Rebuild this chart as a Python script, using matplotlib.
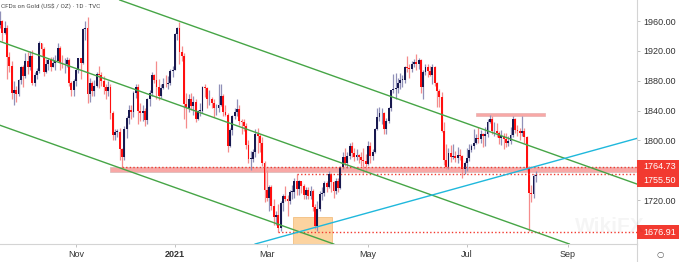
import numpy as np
import pandas as pd
import matplotlib
matplotlib.use('Agg')
import matplotlib.pyplot as plt
import matplotlib.transforms as mtrans
from matplotlib.patches import Rectangle
from matplotlib.lines import Line2D
from matplotlib import font_manager

plt.rcParams['font.family'] = ['Liberation Sans', 'DejaVu Sans']

# TVC gold, daily bars 16 Sep 2020 -> 12 Aug 2021
opens = [
    1955, 1960, 1944, 1950, 1912, 1900, 1863, 1868, 1862, 1881, 1898,  # sep
    1886, 1906, 1899, 1913, 1877, 1887, 1893, 1930, 1922, 1891, 1902, 1908, 1899, 1904, 1907, 1924, 1904, 1902, 1902, 1908, 1877, 1868,  # oct
    1879, 1895, 1910, 1904, 1949, 1951, 1862, 1877, 1866, 1873, 1889, 1887, 1880, 1872, 1866, 1871, 1837, 1807, 1811, 1811, 1788,  # nov
    1777, 1815, 1830, 1841, 1838, 1863, 1871, 1839, 1837, 1840, 1827, 1855, 1864, 1887, 1881, 1872, 1859, 1870, 1876, 1875, 1877, 1893,  # dec
    1895, 1943, 1950, 1918, 1913, 1849, 1844, 1855, 1846, 1851, 1828, 1840, 1840, 1871, 1870, 1855, 1855, 1850, 1843, 1843,  # jan
    1848, 1860, 1838, 1834, 1793, 1814, 1833, 1838, 1842, 1826, 1824, 1819, 1794, 1775, 1775, 1784, 1809, 1806, 1797, 1770,  # feb
    1734, 1723, 1738, 1712, 1697, 1700, 1683, 1716, 1726, 1722, 1719, 1731, 1731, 1745, 1735, 1745, 1739, 1727, 1734, 1725, 1732, 1711, 1685,  # mar
    1708, 1728, 1729, 1743, 1737, 1755, 1744, 1732, 1746, 1736, 1764, 1777, 1770, 1779, 1793, 1783, 1777, 1780, 1777, 1773, 1772,  # apr
    1768, 1792, 1779, 1784, 1815, 1831, 1836, 1836, 1815, 1826, 1843, 1867, 1869, 1870, 1877, 1881, 1881, 1898, 1897, 1896, 1903,  # may
    1905, 1903, 1908, 1871, 1891, 1899, 1893, 1888, 1898, 1877, 1866, 1858, 1812, 1773, 1764, 1783, 1778, 1779, 1776, 1781, 1779, 1761,  # jun
    1770, 1776, 1787, 1792, 1797, 1803, 1802, 1808, 1806, 1808, 1825, 1829, 1812, 1812, 1810, 1803, 1806, 1802, 1797, 1799, 1807, 1828,  # jul
    1814, 1813, 1810, 1812, 1804, 1763, 1729, 1728, 1752,  # aug
]
highs = [
    1973, 1962, 1960, 1955, 1918, 1907, 1880, 1873, 1882, 1900, 1901,
    1917, 1918, 1920, 1921, 1891, 1897, 1933, 1931, 1925, 1909, 1910, 1912, 1912, 1914, 1931, 1926, 1915, 1911, 1912, 1910, 1880, 1882,
    1897, 1911, 1911, 1951, 1960, 1965, 1883, 1880, 1881, 1892, 1900, 1892, 1886, 1876, 1880, 1875, 1839, 1815, 1815, 1816, 1790,
    1819, 1832, 1848, 1848, 1866, 1875, 1875, 1850, 1848, 1843, 1857, 1868, 1891, 1889, 1907, 1882, 1876, 1884, 1888, 1886, 1896, 1900,
    1944, 1952, 1959, 1926, 1917, 1864, 1862, 1863, 1859, 1856, 1841, 1850, 1873, 1875, 1871, 1867, 1858, 1856, 1849, 1875,
    1875, 1862, 1847, 1837, 1816, 1834, 1844, 1855, 1848, 1829, 1828, 1823, 1800, 1786, 1789, 1815, 1816, 1808, 1805, 1772,
    1760, 1740, 1740, 1721, 1705, 1714, 1719, 1728, 1739, 1727, 1733, 1740, 1749, 1755.5, 1747, 1746, 1741, 1738, 1737, 1739, 1735, 1714, 1718,
    1732, 1738, 1745, 1745, 1759, 1756, 1745, 1749, 1749, 1765, 1784, 1790, 1785, 1797, 1798, 1790, 1789, 1782, 1785, 1790, 1782,
    1799, 1798, 1789, 1817, 1843, 1845, 1844, 1838, 1830, 1845, 1868, 1889, 1890, 1883, 1890, 1888, 1900, 1913, 1903, 1906, 1909,
    1916, 1910, 1909, 1895, 1903, 1903, 1900, 1903, 1900, 1878, 1869, 1865, 1825, 1795, 1790, 1794, 1795, 1786, 1791, 1788, 1781, 1772,
    1790, 1795, 1795, 1815, 1809, 1818, 1814, 1810, 1818, 1829, 1834, 1832, 1825, 1823, 1813, 1814, 1810, 1810, 1806, 1818, 1832, 1830,
    1820, 1816, 1832, 1817, 1806, 1766, 1740, 1755, 1759,
]
lows = [
    1950, 1933, 1942, 1882, 1891, 1855, 1848, 1851, 1859, 1876, 1872,
    1884, 1889, 1895, 1874, 1873, 1882, 1890, 1913, 1886, 1890, 1894, 1893, 1898, 1895, 1906, 1894, 1897, 1890, 1899, 1873, 1860, 1860,
    1873, 1890, 1882, 1902, 1935, 1850, 1852, 1859, 1860, 1871, 1870, 1873, 1862, 1855, 1860, 1829, 1800, 1800, 1804, 1774, 1764.7,
    1774, 1803, 1822, 1828, 1831, 1857, 1822, 1826, 1826, 1819, 1822, 1846, 1859, 1877, 1856, 1854, 1857, 1869, 1871, 1869, 1874, 1885,
    1895, 1935, 1902, 1906, 1828, 1817, 1838, 1841, 1834, 1824, 1827, 1833, 1836, 1858, 1843, 1847, 1843, 1831, 1834, 1838,
    1846, 1832, 1832, 1785, 1791, 1807, 1829, 1833, 1821, 1808, 1812, 1788, 1769, 1760, 1771, 1777, 1783, 1784, 1766, 1717,
    1718, 1705, 1707, 1687, 1687, 1676.91, 1678, 1705, 1718, 1699, 1714, 1722, 1723, 1727, 1727, 1729, 1721, 1721, 1722, 1722, 1705, 1681, 1677.9,
    1705, 1720, 1726, 1731, 1736, 1731, 1723, 1728, 1731, 1735, 1762, 1765, 1763, 1775, 1777, 1772, 1774, 1769, 1766, 1756, 1759,
    1767, 1770, 1774, 1783, 1814, 1826, 1822, 1809, 1808, 1823, 1840, 1863, 1855, 1863, 1869, 1872, 1877, 1892, 1884, 1892, 1898,
    1895, 1896, 1864, 1855, 1888, 1885, 1886, 1876, 1873, 1845, 1845, 1811, 1767, 1761, 1761, 1771, 1775, 1771, 1770, 1773, 1750, 1755,
    1759, 1772, 1785, 1788, 1795, 1796, 1796, 1791, 1792, 1805, 1823, 1809, 1806, 1804, 1795, 1794, 1789, 1791, 1792, 1795, 1805, 1810,
    1806, 1800, 1806, 1797, 1759, 1677.9, 1717, 1723, 1744,
]
closes = [
    1960, 1944, 1950, 1912, 1900, 1863, 1868, 1862, 1881, 1898, 1886,
    1906, 1899, 1913, 1877, 1887, 1893, 1930, 1922, 1891, 1902, 1908, 1899, 1904, 1907, 1924, 1904, 1902, 1902, 1908, 1877, 1868, 1879,
    1895, 1910, 1904, 1949, 1951, 1862, 1877, 1866, 1873, 1889, 1887, 1880, 1872, 1866, 1871, 1837, 1807, 1811, 1811, 1788, 1777,
    1815, 1830, 1841, 1838, 1863, 1871, 1839, 1837, 1840, 1827, 1855, 1864, 1887, 1881, 1872, 1859, 1870, 1876, 1875, 1877, 1893, 1895,
    1943, 1950, 1918, 1913, 1849, 1844, 1855, 1846, 1851, 1828, 1840, 1840, 1871, 1870, 1855, 1855, 1850, 1843, 1843, 1848,
    1860, 1838, 1834, 1793, 1814, 1833, 1838, 1842, 1826, 1824, 1819, 1794, 1775, 1775, 1784, 1809, 1806, 1797, 1770, 1734,
    1723, 1738, 1712, 1697, 1700, 1683, 1716, 1726, 1722, 1719, 1731, 1731, 1745, 1735, 1745, 1739, 1727, 1734, 1725, 1732, 1711, 1685, 1708,
    1728, 1729, 1743, 1737, 1755, 1744, 1732, 1746, 1736, 1764, 1777, 1770, 1779, 1793, 1783, 1777, 1780, 1777, 1773, 1772, 1768,
    1792, 1779, 1784, 1815, 1831, 1836, 1836, 1815, 1826, 1843, 1867, 1869, 1870, 1877, 1881, 1881, 1898, 1897, 1896, 1903, 1905,
    1903, 1908, 1871, 1891, 1899, 1893, 1888, 1898, 1877, 1866, 1858, 1812, 1773, 1764, 1783, 1778, 1779, 1776, 1781, 1779, 1761, 1770,
    1776, 1787, 1792, 1797, 1803, 1802, 1808, 1806, 1808, 1825, 1829, 1812, 1812, 1810, 1803, 1806, 1802, 1797, 1799, 1807, 1828, 1814,
    1813, 1810, 1812, 1804, 1763, 1729, 1728, 1752, 1753,
]

holidays = ['2020-12-25', '2021-01-01', '2021-04-02']
days = pd.bdate_range('2020-09-16', '2021-08-12')
days = days[~days.isin(pd.to_datetime(holidays))]
all_days = days.append(pd.bdate_range('2021-08-13', '2021-10-29'))

tick_months = ['2020-11', '2021-01', '2021-03', '2021-05', '2021-07', '2021-09']
tick_labels = ['Nov', '2021', 'Mar', 'May', 'Jul', 'Sep']
price_ticks = [1720, 1800, 1840, 1880, 1920, 1960]

# analyst drawings
channel_anchor = '2021-01-06'
channel_prices = [1959.7, 1847.0, 1734.6]
channel_slope = -1.097          # $ per bar
rising_anchor = ('2021-03-08', 1669.6)
rising_slope = 0.853
levels = [1764.73, 1755.50, 1676.91]
level_from = ['2020-11-30', '2021-03-18', '2021-03-08']
level_label_at = [1764.9, 1746.8, 1677.0]
support_zone = ('2020-11-23', 1757.2, 1764.5)
resist_zone = ('2021-07-07', '2021-08-18', 1832.0, 1837.0)
bottom_box = ('2021-03-17', '2021-04-09', 1697.6)


def idx(d):
    return int(np.searchsorted(all_days, pd.Timestamp(d)))


o = np.array(opens, float)
h = np.array(highs, float)
l = np.array(lows, float)
c = np.array(closes, float)
x = np.arange(len(c))
up = c >= o

fig = plt.figure(figsize=(6.79, 2.62), dpi=100)
ax = fig.add_axes([0, 18 / 262, 637 / 679, 244 / 262])
ax.set_xlim(-0.06, 277.0)
ax.set_ylim(1661.0, 1988.2)

red = '#f23a30'
# zones
s0 = idx(support_zone[0]) - 0.2
ax.add_patch(Rectangle((s0, support_zone[1]), 400, support_zone[2] - support_zone[1],
                       facecolor='#f8a8a6', edgecolor='#d8b8b8', lw=0.5, zorder=1))
r0, r1 = idx(resist_zone[0]), idx(resist_zone[1])
ax.add_patch(Rectangle((r0, resist_zone[2]), r1 - r0, resist_zone[3] - resist_zone[2],
                       facecolor='#f8a8a6', edgecolor='#e8b0b0', lw=0.5, zorder=1))
b0, b1 = idx(bottom_box[0]) - 0.5, idx(bottom_box[1]) + 0.2
ax.add_patch(Rectangle((b0, 1640), b1 - b0, bottom_box[2] - 1640,
                       facecolor='#fcd3a0', edgecolor='#f3bf80', lw=0.6, zorder=1))

# candles
body_col = np.where(up, '#18184e', '#ff0f0f')
wick_col = np.where(up, '#9090b8', '#f58c8c')
ax.vlines(x, l, h, colors=wick_col, lw=0.9, zorder=3)
ax.bar(x, np.maximum(np.abs(c - o), 1.0), bottom=np.minimum(o, c), width=0.82,
       color=body_col, linewidth=0, zorder=4)

# horizontal levels
for lv, start in zip(levels, level_from):
    ax.hlines(lv, idx(start), 400, colors=red, lw=1.0, linestyles=(0, (1, 1.6)), zorder=5)

# channel + rising trendline
ci = idx(channel_anchor)
for p in channel_prices:
    ax.axline((ci, p), slope=channel_slope, color='#46a546', lw=1.0, zorder=5)
ax.axline((idx(rising_anchor[0]), rising_anchor[1]), slope=rising_slope,
          color='#1fb8dc', lw=1.0, zorder=5)

# axes styling
for s in ['top', 'left']:
    ax.spines[s].set_visible(False)
for s in ['bottom', 'right']:
    ax.spines[s].set_color('#d4d4d4')
    ax.spines[s].set_linewidth(0.8)
fig.add_artist(Line2D([637 / 679, 637 / 679], [0, 18 / 262], color='#d4d4d4', lw=0.8))

ax.yaxis.tick_right()
ax.set_yticks(price_ticks)
ax.set_yticklabels([f'{p:.2f}' for p in price_ticks])
ax.set_xticks([idx(m + '-01') for m in tick_months])
ax.set_xticklabels(tick_labels)
ax.get_xticklabels()[1].set_fontweight('bold')
ax.tick_params(axis='both', length=2, width=0.6, color='#b8b8b8', labelsize=6.5,
               labelcolor='#333333')
ax.tick_params(axis='y', pad=2.3)
ax.tick_params(axis='x', pad=2.0)

# level labels on the price scale
tr = mtrans.blended_transform_factory(ax.transAxes, ax.transData)
for lv, ly in zip(levels, level_label_at):
    ax.add_patch(Rectangle((1.0, ly - 9.4), 42 / 637, 18.8, transform=tr,
                           facecolor=red, edgecolor='none', clip_on=False, zorder=6))
    ax.text(1.0 + 6 / 637, ly, f'{lv:.2f}', transform=tr, color='white', fontsize=6.5,
            va='center', ha='left', clip_on=False, zorder=7)

installed = {f.name for f in font_manager.fontManager.ttflist}
title_font = ['Liberation Sans Narrow'] if 'Liberation Sans Narrow' in installed else ['Roboto', 'DejaVu Sans']
title_size = 5.0 if 'Liberation Sans Narrow' in installed else 4.6
fig.text(1 / 679, 1 - 6 / 262, 'CFDs on Gold (US\\$ / OZ) · 1D · TVC', fontsize=title_size,
         color='#4a4a4a', va='center', ha='left', family=title_font)
fig.text(575 / 679, 1 - 226 / 262, 'WikiFX', fontsize=15, fontweight='bold',
         color='#000000', alpha=0.04, va='center', ha='left', zorder=10)
fig.text(660 / 679, 1 - 254 / 262, '○', fontsize=6, color='#555555',
         va='center', ha='center', family='DejaVu Sans')

fig.savefig('out.png', dpi=100)
